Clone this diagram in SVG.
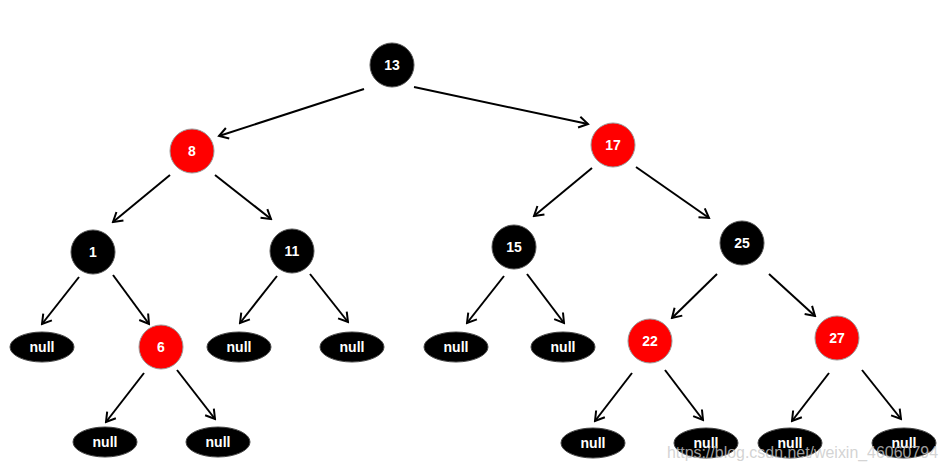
<svg xmlns="http://www.w3.org/2000/svg" width="948" height="471" viewBox="0 0 948 471">
<defs>
<style>
.b{fill:#000;stroke:#555;stroke-width:1}
.r{fill:#ff0000;stroke:#999;stroke-width:1}
.n{fill:#000;stroke:#444;stroke-width:1}
.t{fill:#fff;font-family:"Liberation Sans",Arial,sans-serif;font-weight:bold;font-size:14px;text-anchor:middle;dominant-baseline:central}
.e{stroke:#000;stroke-width:2;fill:none;marker-end:url(#a)}
.w{fill:#c8c8c8;fill-opacity:0.8;font-family:"Liberation Sans",Arial,sans-serif;font-size:17px}
</style>
<marker id="a" markerUnits="userSpaceOnUse" markerWidth="14" markerHeight="14" viewBox="0 0 14 14" refX="12" refY="7" orient="auto">
<path d="M3,1.5 L12,7 L3,12.5" fill="none" stroke="#000" stroke-width="2"/>
</marker>
</defs>
<rect width="948" height="471" fill="#fff"/>
<g id="edges">
<line class="e" x1="364" y1="89" x2="219" y2="136"/>
<line class="e" x1="414" y1="87" x2="588" y2="124"/>
<line class="e" x1="170" y1="175" x2="113" y2="222"/>
<line class="e" x1="215" y1="175" x2="271" y2="219"/>
<line class="e" x1="592" y1="168" x2="534" y2="216"/>
<line class="e" x1="636" y1="167" x2="709" y2="218"/>
<line class="e" x1="79" y1="277" x2="42" y2="324"/>
<line class="e" x1="113" y1="275" x2="149" y2="324"/>
<line class="e" x1="277" y1="276" x2="240" y2="323"/>
<line class="e" x1="310" y1="274" x2="348" y2="322"/>
<line class="e" x1="504" y1="276" x2="467" y2="323"/>
<line class="e" x1="527" y1="274" x2="564" y2="323"/>
<line class="e" x1="717" y1="274" x2="672" y2="318"/>
<line class="e" x1="769" y1="274" x2="815" y2="316"/>
<line class="e" x1="144" y1="373" x2="106" y2="422"/>
<line class="e" x1="177" y1="370" x2="215" y2="419"/>
<line class="e" x1="632" y1="373" x2="595" y2="421"/>
<line class="e" x1="665" y1="370" x2="703" y2="420"/>
<line class="e" x1="829" y1="373" x2="792" y2="421"/>
<line class="e" x1="862" y1="370" x2="901" y2="419"/>
</g>
<g id="n13"><circle class="b" cx="392" cy="65" r="22"/><text class="t" x="392" y="65">13</text></g>
<g id="n8"><circle class="r" cx="192" cy="151" r="22"/><text class="t" x="192" y="151">8</text></g>
<g id="n17"><circle class="r" cx="613" cy="145" r="22"/><text class="t" x="613" y="145">17</text></g>
<g id="n1"><circle class="b" cx="93" cy="252" r="22"/><text class="t" x="93" y="252">1</text></g>
<g id="n11"><circle class="b" cx="292" cy="251" r="22"/><text class="t" x="292" y="251">11</text></g>
<g id="n15"><circle class="b" cx="514" cy="247" r="22"/><text class="t" x="514" y="247">15</text></g>
<g id="n25"><circle class="b" cx="742" cy="243" r="22"/><text class="t" x="742" y="243">25</text></g>
<g id="n6"><circle class="r" cx="161" cy="347" r="22"/><text class="t" x="161" y="347">6</text></g>
<g id="n22"><circle class="r" cx="650" cy="341" r="22"/><text class="t" x="650" y="341">22</text></g>
<g id="n27"><circle class="r" cx="837" cy="338" r="22"/><text class="t" x="837" y="338">27</text></g>
<g id="null1"><ellipse class="n" cx="42" cy="347" rx="32" ry="15"/><text class="t" x="42" y="347">null</text></g>
<g id="null2"><ellipse class="n" cx="239" cy="347" rx="32" ry="15"/><text class="t" x="239" y="347">null</text></g>
<g id="null3"><ellipse class="n" cx="352" cy="347" rx="32" ry="15"/><text class="t" x="352" y="347">null</text></g>
<g id="null4"><ellipse class="n" cx="456" cy="347" rx="32" ry="15"/><text class="t" x="456" y="347">null</text></g>
<g id="null5"><ellipse class="n" cx="563" cy="347" rx="32" ry="15"/><text class="t" x="563" y="347">null</text></g>
<g id="null6"><ellipse class="n" cx="105" cy="442" rx="32" ry="15"/><text class="t" x="105" y="442">null</text></g>
<g id="null7"><ellipse class="n" cx="218" cy="442" rx="32" ry="15"/><text class="t" x="218" y="442">null</text></g>
<g id="null8"><ellipse class="n" cx="593" cy="443" rx="32" ry="15"/><text class="t" x="593" y="443">null</text></g>
<g id="null9"><ellipse class="n" cx="706" cy="443" rx="32" ry="15"/><text class="t" x="706" y="443">null</text></g>
<g id="null10"><ellipse class="n" cx="790" cy="443" rx="32" ry="15"/><text class="t" x="790" y="443">null</text></g>
<g id="null11"><ellipse class="n" cx="904" cy="443" rx="32" ry="15"/><text class="t" x="904" y="443">null</text></g>
<text class="w" x="667" y="458" textLength="271" lengthAdjust="spacingAndGlyphs">https://blog.csdn.net/weixin_46060794</text>
</svg>
